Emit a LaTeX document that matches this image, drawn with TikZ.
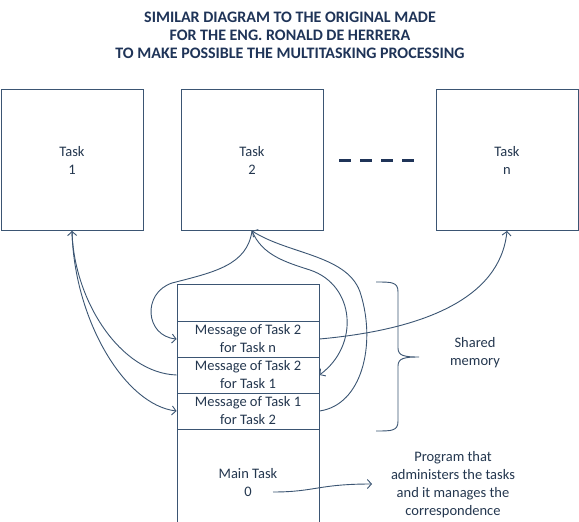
\documentclass[tikz,border=0pt]{standalone}
\usepackage{fontspec}
\setmainfont{Carlito}
\usetikzlibrary{arrows.meta}
\definecolor{lineC}{HTML}{3B5573}
\definecolor{textC}{HTML}{24374F}
\definecolor{titleC}{HTML}{1F3458}
\tikzset{
  every node/.style={text=textC, font=\fontsize{14.5}{18}\selectfont, align=center, inner sep=0pt},
  taskbox/.style={draw=lineC, line width=0.9pt, minimum width=142pt, minimum height=141pt},
  cell/.style={draw=lineC, line width=0.9pt, minimum width=142pt, minimum height=36pt},
  conn/.style={draw=lineC, line width=0.9pt},
  arr/.style={conn, -{Straight Barb[length=4pt,width=9pt]}},
  titletext/.style={text=titleC, font=\fontsize{16}{18}\bfseries\selectfont},
}
\begin{document}
\begin{tikzpicture}[x=1pt,y=-1pt]
\useasboundingbox (0,0) rectangle (579,522);
\fill[white] (0,0) rectangle (579,522);

\node[titletext] (title) at (290,35) {SIMILAR DIAGRAM TO THE ORIGINAL MADE\\FOR THE ENG. RONALD DE HERRERA\\TO MAKE POSSIBLE THE MULTITASKING PROCESSING};

\node[taskbox] (t1) at (72,160) {Task\\1};
\node[taskbox] (t2) at (252,160) {Task\\2};
\node[taskbox] (tn) at (507,160) {Task\\n};
\draw[titleC, line width=3pt, dash pattern=on 12pt off 9pt] (339,160) -- (415,160);

% shared memory column
\node[cell, minimum height=37pt] (mtop) at (248,302.5) {};
\node[cell] (r1) at (248,339) {Message of Task 2\\for Task n};
\node[cell] (r2) at (248,375) {Message of Task 2\\for Task 1};
\node[cell] (r3) at (248,411) {Message of Task 1\\for Task 2};
\draw[conn] (177,429) -- (177,524);
\draw[conn] (319,429) -- (319,524);
\node (main) at (248,483) {Main Task\\0};

% brace
\draw[conn] (376,282) .. controls (392,282) and (398,282) .. (398,292) -- (398,348)
  .. controls (398,356) and (405,357) .. (419,357)
  .. controls (405,357) and (398,358) .. (398,366) -- (398,421)
  .. controls (398,431) and (392,431) .. (376,431);
\node (shared) at (475,353) {Shared\\memory};

\node (prog) at (453,485) {Program that\\administers the tasks\\and it manages the\\correspondence};
\coordinate (m0) at (273,492);
\coordinate (pe) at (372,484);
\draw[arr] (m0) .. controls (315,492) and (318,484) .. (pe);

% connectors
\draw[arr] (r2.west) .. controls (120,373) and (74,300) .. (t1.south);
\draw[arr] (t1.south) .. controls (74,320) and (125,405) .. (r3.west);
\draw[arr] (t2.south) .. controls (247,265) and (215,272) .. (172,283)
  .. controls (142,293) and (145,336) .. (r1.west);
\draw[arr] (t2.south) .. controls (262,255) and (285,262) .. (310,270)
  .. controls (355,285) and (360,345) .. (r2.east);
\draw[arr] (r3.east) .. controls (362,405) and (376,345) .. (361,295)
  .. controls (350,255) and (290,255) .. (t2.south);
\draw[arr] (r1.east) .. controls (420,330) and (500,300) .. (tn.south);
\end{tikzpicture}
\end{document}
